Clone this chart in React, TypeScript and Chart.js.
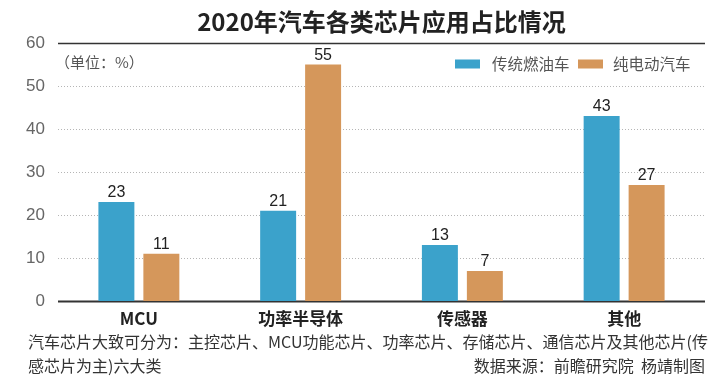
import React, { useEffect, useRef } from "react";
import { Chart, registerables } from "chart.js";

Chart.register(...registerables);

const categories = ["MCU", "功率半导体", "传感器", "其他"];
const fuelValues = [23, 21, 13, 43];
const evValues = [11, 55, 7, 27];
const seriesNames = ["传统燃油车", "纯电动汽车"];
const yTicks = [0, 10, 20, 30, 40, 50, 60];
const titleText = "2020年汽车各类芯片应用占比情况";
const unitText = "（单位：%）";
const footLine1 = "汽车芯片大致可分为：主控芯片、MCU功能芯片、功率芯片、存储芯片、通信芯片及其他芯片(传";
const footLine2 = "感芯片为主)六大类";
const sourceText = "数据来源：前瞻研究院  杨靖制图";

const BLUE = "#3ba2cb";
const ORANGE = "#d5975b";
const CJK = '"Noto Sans CJK SC", "Liberation Sans", sans-serif';

export default function App() {
  const ref = useRef<HTMLCanvasElement | null>(null);
  useEffect(() => {
    document.body.style.margin = "0";
    const canvas = ref.current!;
    const decor = {
      id: "decor",
      beforeDatasetsDraw(chart: any) {
        const { ctx, chartArea } = chart;
        const y = chart.scales.y;
        ctx.save();
        yTicks.forEach((v) => {
          const py = Math.round(y.getPixelForValue(v)) + 0.5;
          ctx.beginPath();
          if (v === 0 || v === 60) {
            ctx.setLineDash([]);
            ctx.strokeStyle = "#333";
            ctx.lineWidth = v === 0 ? 2 : 1.5;
          } else {
            ctx.setLineDash([1, 2]);
            ctx.strokeStyle = "#b5b5b5";
            ctx.lineWidth = 1;
          }
          ctx.moveTo(chartArea.left, py);
          ctx.lineTo(chartArea.right, py);
          ctx.stroke();
        });
        ctx.restore();
      },
      afterDatasetsDraw(chart: any) {
        const { ctx, chartArea } = chart;
        const x = chart.scales.x;
        ctx.save();
        // data labels
        ctx.fillStyle = "#222";
        ctx.font = '16px "Liberation Sans", sans-serif';
        ctx.textAlign = "center";
        ctx.textBaseline = "alphabetic";
        chart.data.datasets.forEach((ds: any, di: number) => {
          const meta = chart.getDatasetMeta(di);
          meta.data.forEach((bar: any, i: number) => {
            ctx.fillText(String(ds.data[i]), bar.x, bar.y - 5);
          });
        });
        // category labels
        ctx.font = `bold 17px ${CJK}`;
        ctx.textBaseline = "middle";
        categories.forEach((c, i) => {
          ctx.fillText(c, x.getPixelForValue(i), 319);
        });
        // title
        ctx.font = `bold 24px ${CJK}`;
        ctx.fillStyle = "#222";
        ctx.fillText(titleText, (chartArea.left + chartArea.right) / 2, 22);
        // unit
        ctx.font = `15px ${CJK}`;
        ctx.fillStyle = "#555";
        ctx.textAlign = "left";
        ctx.fillText(unitText, 55, 62);
        // legend
        const items = [
          { color: BLUE, label: seriesNames[0], bx: 455, tx: 492 },
          { color: ORANGE, label: seriesNames[1], bx: 578, tx: 613 },
        ];
        items.forEach((it) => {
          ctx.fillStyle = it.color;
          ctx.fillRect(it.bx, 59.5, 25, 9);
          ctx.fillStyle = "#555";
          ctx.font = `15.5px ${CJK}`;
          ctx.fillText(it.label, it.tx, 64.5);
        });
        // footer
        ctx.fillStyle = "#333";
        ctx.font = `16px ${CJK}`;
        ctx.textAlign = "left";
        ctx.fillText(footLine1, 28, 342);
        ctx.fillText(footLine2, 28, 366);
        ctx.textAlign = "right";
        ctx.fillText(sourceText, 705, 366);
        ctx.restore();
      },
    };
    const chart = new Chart(canvas, {
      type: "bar",
      data: {
        labels: categories,
        datasets: [
          { label: seriesNames[0], data: fuelValues, backgroundColor: BLUE, categoryPercentage: 0.556, barPercentage: 0.8 },
          { label: seriesNames[1], data: evValues, backgroundColor: ORANGE, categoryPercentage: 0.556, barPercentage: 0.8 },
        ],
      },
      options: {
        animation: false,
        responsive: false,
        layout: { padding: { top: 43, right: 8, left: 0, bottom: 0 } },
        plugins: { legend: { display: false }, title: { display: false }, tooltip: { enabled: false } },
        scales: {
          x: {
            grid: { display: false, drawTicks: false },
            border: { display: false },
            ticks: { display: false },
            afterFit: (s: any) => { s.height = 82; },
          },
          y: {
            min: 0,
            max: 60,
            grid: { display: false, drawTicks: false },
            border: { display: false },
            ticks: {
              stepSize: 10,
              padding: 13,
              color: "#666",
              font: { family: '"Liberation Sans", sans-serif', size: 17 },
            },
            afterFit: (s: any) => { s.width = 58; },
          },
        },
      },
      plugins: [decor],
    });
    return () => chart.destroy();
  }, []);
  return (
    <div style={{ width: 713, height: 383 }}>
      <canvas ref={ref} width={713} height={383} style={{ display: "block" }} />
    </div>
  );
}
